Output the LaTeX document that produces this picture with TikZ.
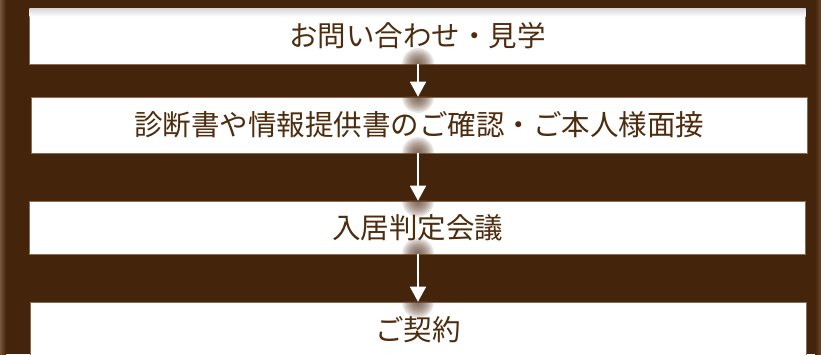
\documentclass[tikz,border=0pt]{standalone}
\usepackage{fontspec}
\newfontfamily\jpfont{Noto Sans CJK JP}
\usetikzlibrary{arrows.meta}
\definecolor{bgbrown}{HTML}{44240A}
\definecolor{txtbrown}{HTML}{4E2C0E}
\definecolor{edgebrown}{HTML}{8C6B52}
\definecolor{glow}{HTML}{5E402A}
\tikzset{
  stepbox/.style={draw=edgebrown, line width=0.6pt, fill=white, minimum width=776pt,
    inner sep=0pt, text=txtbrown, font=\jpfont\fontsize{28.5}{30}\selectfont},
  flowarrow/.style={draw=white, line width=1.6pt, -{Triangle[width=16pt,length=15pt]}},
}
\begin{document}
\begin{tikzpicture}[x=1pt,y=-1pt]
\useasboundingbox (0,0) rectangle (821,354);
\begin{scope}
\clip (0,0) rectangle (821,354);
\fill[bgbrown] (0,0) rectangle (821,354);
\shade[left color=edgebrown!70!bgbrown, right color=bgbrown] (0,0) rectangle (6,354);
\shade[left color=bgbrown, right color=edgebrown!50!bgbrown] (815,0) rectangle (821,354);

\node[stepbox, minimum height=56pt] (b1) at (417.5,36) {\phantom{お問い合わせ・見学}};
\node[stepbox, minimum height=56pt] (b2) at (419,125) {診断書や情報提供書のご確認・ご本人様面接};
\node[stepbox, minimum height=53pt] (b3) at (417.5,227.5) {入居判定会議};
\node[stepbox, minimum height=56pt] (b4) at (418,330) {ご契約};

% soft top shading of the first box
\shade[top color=black!16, bottom color=white] ([xshift=0.3pt,yshift=-0.3pt]b1.north west) rectangle ([xshift=-0.3pt,yshift=-9pt]b1.north east);
\node[text=txtbrown, font=\jpfont\fontsize{28.5}{30}\selectfont] (t1) at (b1.center) {お問い合わせ・見学};

% glows at arrow ends
\foreach \b/\e/\ya/\yb in {b1/b2/64/97, b2/b3/153/201, b3/b4/254/302}{
  \begin{scope}
    \clip ([xshift=0.4pt,yshift=-0.4pt]\b.south west) rectangle ([xshift=-0.4pt,yshift=18pt]\b.south east);
    \foreach \r in {16,14.5,...,2}{ \fill[glow, opacity=0.12] (418,\ya) circle (\r); }
  \end{scope}
  \begin{scope}
    \clip ([xshift=0.4pt,yshift=0.4pt]\e.north west) rectangle ([xshift=-0.4pt,yshift=-18pt]\e.north east);
    \foreach \r in {16,14.5,...,2}{ \fill[glow, opacity=0.12] (418,\yb) circle (\r); }
  \end{scope}
}

\coordinate (a1s) at (b1.south -| 418,0);
\coordinate (a1e) at (b2.north -| 418,0);
\coordinate (a2s) at (b2.south -| 418,0);
\coordinate (a2e) at (b3.north -| 418,0);
\coordinate (a3s) at (b3.south -| 418,0);
\coordinate (a3e) at (b4.north -| 418,0);
\draw[flowarrow] (a1s) -- (a1e);
\draw[flowarrow] (a2s) -- (a2e);
\draw[flowarrow] (a3s) -- (a3e);
\end{scope}
\end{tikzpicture}
\end{document}
